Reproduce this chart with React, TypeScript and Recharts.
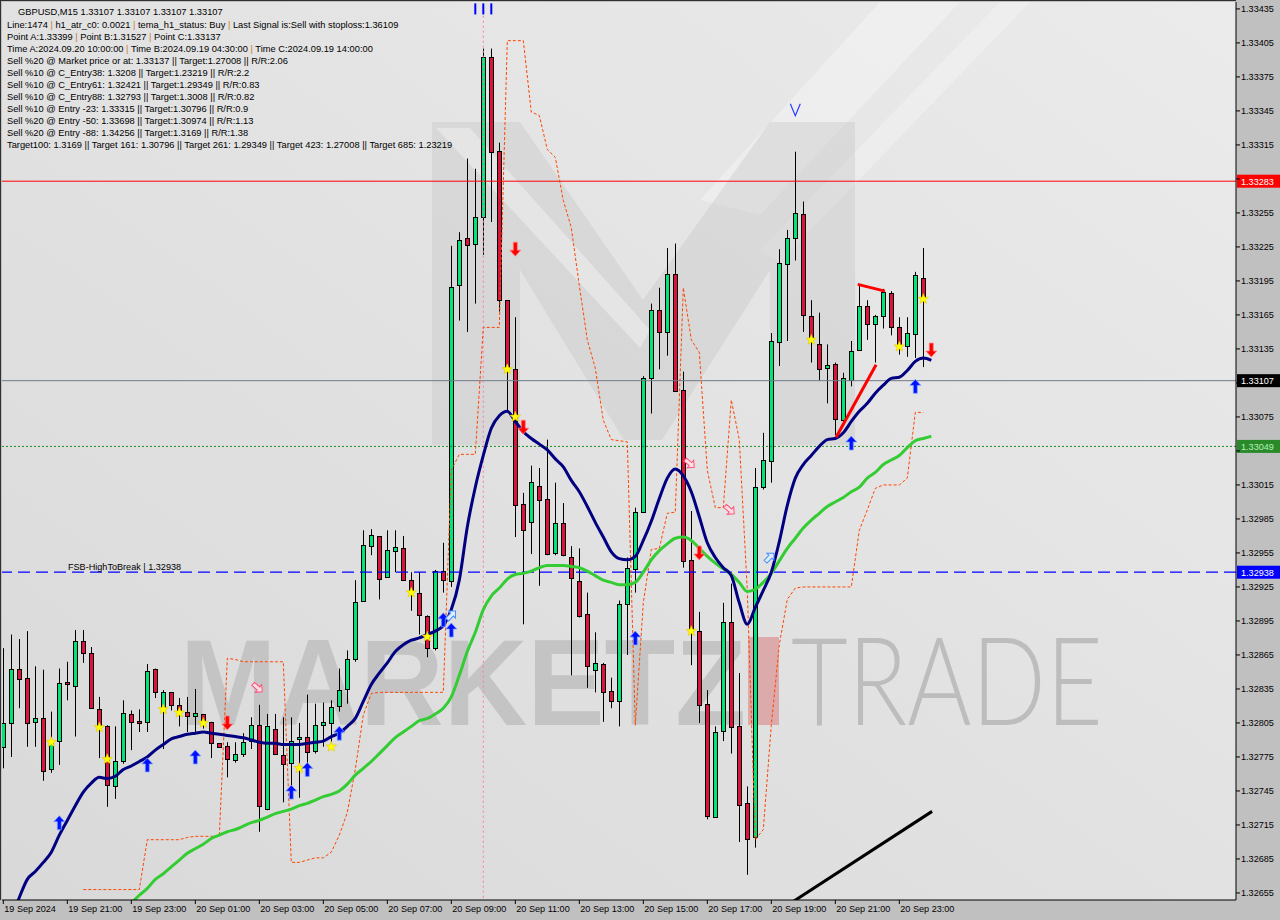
import React from "react";
import { ComposedChart, Bar, Line, Scatter, XAxis, YAxis, ReferenceLine } from "recharts";

const FONT = "'Liberation Sans', Arial, Helvetica, sans-serif";
const GREEN = "#00e47a";
const RED = "#dc143c";

// ---- candles (M15, 19 Sep 19:00 .. 20 Sep 23:45) ----
const opens = [
  1.32784, 1.32805, 1.32853, 1.32845, 1.32806, 1.32809, 1.32764, 1.32789, 1.32841, 1.32838,
  1.32877, 1.32867, 1.32817, 1.32802, 1.32749, 1.32771, 1.32813, 1.32807, 1.32806, 1.32853,
  1.32818, 1.32832, 1.32821, 1.32815, 1.32811, 1.32813, 1.32806, 1.32787, 1.32785, 1.32772,
  1.32778, 1.32789, 1.32803, 1.32729, 1.328, 1.32777, 1.3277, 1.32791, 1.32793, 1.3278,
  1.32803, 1.32805, 1.3282, 1.32835, 1.32861, 1.32913, 1.32961, 1.3297, 1.32934, 1.32957,
  1.32959, 1.32931, 1.3292, 1.32899, 1.32871, 1.32939, 1.3293, 1.33191, 1.33233, 1.33228,
  1.33251, 1.33393, 1.3331, 1.33178, 1.33117, 1.32998, 1.32982, 1.33014, 1.33003, 1.32955,
  1.32981, 1.32951, 1.3293, 1.32901, 1.32852, 1.32857, 1.32833, 1.32824, 1.3291, 1.32941,
  1.32991, 1.33109, 1.33169, 1.3315, 1.33201, 1.33099, 1.32949, 1.32886, 1.32822, 1.32722,
  1.32798, 1.32894, 1.32802, 1.32734, 1.32704, 1.33013, 1.33036, 1.33141, 1.3321, 1.33233,
  1.33254, 1.33164, 1.33139, 1.33118, 1.33122, 1.33072, 1.33108, 1.33134, 1.33173, 1.33157,
  1.33164, 1.33184, 1.33154, 1.33138, 1.33148, 1.33198,
];
const highs = [
  1.32871, 1.32883, 1.32879, 1.32886, 1.32855, 1.32852, 1.32815, 1.32853, 1.32859, 1.32887,
  1.32887, 1.32872, 1.32828, 1.32803, 1.32802, 1.32825, 1.32816, 1.32817, 1.32857, 1.32853,
  1.32834, 1.32832, 1.32827, 1.32828, 1.32835, 1.32813, 1.32806, 1.32787, 1.32788, 1.32788,
  1.32796, 1.3281, 1.32821, 1.32813, 1.32813, 1.3281, 1.3281, 1.32805, 1.3283, 1.32822,
  1.32823, 1.32825, 1.32853, 1.32869, 1.32931, 1.32975, 1.32976, 1.3297, 1.32975, 1.32975,
  1.3297, 1.32938, 1.32938, 1.329, 1.3294, 1.32964, 1.33226, 1.33238, 1.33303, 1.33294,
  1.334, 1.334, 1.33317, 1.33178, 1.33163, 1.33008, 1.33032, 1.3303, 1.33055, 1.33017,
  1.32999, 1.32961, 1.32959, 1.3292, 1.32885, 1.32858, 1.32845, 1.32913, 1.32951, 1.32995,
  1.33111, 1.33175, 1.33189, 1.33224, 1.33228, 1.33115, 1.32992, 1.32903, 1.32834, 1.32802,
  1.32911, 1.32928, 1.32849, 1.32749, 1.3303, 1.33061, 1.33149, 1.33223, 1.3324, 1.33309,
  1.33265, 1.33178, 1.33167, 1.33139, 1.33123, 1.33114, 1.33142, 1.33191, 1.33178, 1.33165,
  1.33188, 1.33186, 1.33163, 1.33163, 1.33203, 1.33224,
];
const lows = [
  1.32765, 1.32775, 1.32818, 1.32784, 1.32784, 1.32754, 1.32761, 1.32768, 1.32825, 1.32793,
  1.32858, 1.32818, 1.32774, 1.32731, 1.32738, 1.32769, 1.32781, 1.32797, 1.32797, 1.32827,
  1.32782, 1.32816, 1.32802, 1.32797, 1.32797, 1.328, 1.32774, 1.32783, 1.32757, 1.3277,
  1.32775, 1.32782, 1.32709, 1.32728, 1.32778, 1.32735, 1.32746, 1.32739, 1.32766, 1.32778,
  1.32784, 1.32787, 1.32815, 1.32822, 1.32859, 1.32913, 1.32953, 1.32914, 1.32934, 1.32938,
  1.32931, 1.32904, 1.32883, 1.32863, 1.32869, 1.3292, 1.32925, 1.3316, 1.3315, 1.33175,
  1.33218, 1.33247, 1.33168, 1.33079, 1.32969, 1.32892, 1.32954, 1.32926, 1.32953, 1.32953,
  1.32952, 1.32847, 1.32898, 1.32836, 1.32832, 1.32806, 1.32818, 1.32802, 1.32865, 1.3292,
  1.32991, 1.33078, 1.33117, 1.33129, 1.33098, 1.32942, 1.32856, 1.32805, 1.3272, 1.32722,
  1.32789, 1.32778, 1.327, 1.32671, 1.32695, 1.33011, 1.33017, 1.3312, 1.33142, 1.33213,
  1.3315, 1.33123, 1.33107, 1.33087, 1.33059, 1.33067, 1.33102, 1.33134, 1.33143, 1.33123,
  1.33153, 1.33147, 1.3313, 1.33128, 1.33127, 1.33119,
];
const closes = [
  1.32805, 1.32853, 1.32844, 1.32805, 1.32809, 1.32763, 1.32787, 1.3284, 1.32839, 1.32877,
  1.32867, 1.32818, 1.32802, 1.3275, 1.32771, 1.32814, 1.32806, 1.32805, 1.32851, 1.32832,
  1.32832, 1.32821, 1.32815, 1.32811, 1.32814, 1.32806, 1.32787, 1.32784, 1.32773, 1.32778,
  1.32788, 1.32803, 1.32732, 1.32802, 1.32778, 1.32769, 1.32789, 1.32793, 1.32779, 1.32803,
  1.32806, 1.32819, 1.32834, 1.32861, 1.32912, 1.32962, 1.32971, 1.32932, 1.32958, 1.3296,
  1.32931, 1.32922, 1.329, 1.32871, 1.32939, 1.32931, 1.3319, 1.33231, 1.33227, 1.33251,
  1.33393, 1.33309, 1.33178, 1.33118, 1.32997, 1.32975, 1.33018, 1.33002, 1.32954, 1.32981,
  1.32953, 1.32933, 1.32899, 1.32855, 1.32858, 1.32832, 1.32824, 1.3291, 1.32942, 1.32991,
  1.33109, 1.33169, 1.3315, 1.33201, 1.33098, 1.32948, 1.32886, 1.32821, 1.32723, 1.32797,
  1.32894, 1.32801, 1.32733, 1.32703, 1.33013, 1.33037, 1.33142, 1.33211, 1.33233, 1.33255,
  1.33165, 1.33145, 1.33117, 1.33121, 1.33073, 1.33109, 1.33133, 1.33173, 1.33157, 1.33164,
  1.33185, 1.33154, 1.33139, 1.33149, 1.332, 1.3318,
];

// ---- indicator lines ----
const fastMA = [
  1.32614, 1.32633, 1.32651, 1.32667, 1.32674, 1.32682, 1.32691, 1.32706, 1.32719, 1.32732,
  1.32744, 1.32752, 1.32757, 1.32756, 1.32758, 1.32764, 1.32767, 1.32771, 1.32775, 1.32781,
  1.32786, 1.32791, 1.32793, 1.32795, 1.32796, 1.32797, 1.32796, 1.32795, 1.32794, 1.32793,
  1.32792, 1.3279, 1.32788, 1.32787, 1.32787, 1.32786, 1.32786, 1.32786, 1.32787, 1.32788,
  1.32789, 1.32793, 1.32796, 1.32802, 1.32809, 1.32824, 1.32839, 1.32849, 1.32858, 1.32868,
  1.32874, 1.32878, 1.3288, 1.32883, 1.32886, 1.32891, 1.32905, 1.32931, 1.32978, 1.33013,
  1.33041, 1.33065, 1.33076, 1.3308, 1.33071, 1.33062, 1.33056, 1.33051, 1.33046, 1.33038,
  1.33031, 1.33019, 1.33009, 1.32996, 1.32982, 1.32969, 1.32956, 1.3295, 1.32949, 1.32952,
  1.32966, 1.32983, 1.33003, 1.33021, 1.33029, 1.33023, 1.33009, 1.32987, 1.32964, 1.32951,
  1.32942, 1.32935, 1.32911, 1.32892, 1.32907, 1.32922, 1.32938, 1.32965, 1.32997, 1.33021,
  1.33033, 1.33041, 1.33049, 1.33055, 1.33056, 1.33061, 1.33071, 1.3308, 1.33087, 1.33096,
  1.33103, 1.33109, 1.3311, 1.33116, 1.33124, 1.33127, 1.33125,
];
const slowMA = [
  null, null, null, null, null, null, null, null, null, null,
  null, null, null, null, null, 1.32638, 1.32646, 1.32653, 1.32659, 1.32667,
  1.32672, 1.32678, 1.32684, 1.3269, 1.32694, 1.32698, 1.32703, 1.32706, 1.32709, 1.32711,
  1.32714, 1.32717, 1.32719, 1.32722, 1.32725, 1.32727, 1.32729, 1.32732, 1.32734, 1.32737,
  1.3274, 1.32742, 1.32745, 1.32751, 1.32759, 1.32765, 1.32771, 1.32778, 1.32785, 1.32792,
  1.32797, 1.32802, 1.32807, 1.32809, 1.32813, 1.32818, 1.32828, 1.32847, 1.32868, 1.32885,
  1.32905, 1.32917, 1.32924, 1.32932, 1.32936, 1.32937, 1.32939, 1.32942, 1.32944, 1.32944,
  1.32944, 1.32943, 1.32942, 1.32939, 1.32935, 1.32931, 1.32929, 1.32927, 1.32927, 1.32929,
  1.32938, 1.32949, 1.32957, 1.32963, 1.32968, 1.32969, 1.32966, 1.32959, 1.32952, 1.32946,
  1.32941, 1.32936, 1.32929, 1.32921, 1.32923, 1.32929, 1.32937, 1.32948, 1.32959, 1.32968,
  1.32977, 1.32984, 1.3299, 1.32996, 1.33, 1.33004, 1.33009, 1.33013, 1.33021, 1.33026,
  1.33033, 1.33037, 1.33041, 1.33048, 1.33054, 1.33056, 1.33058,
];
const trailStop = [
  null, null, null, null, null, null, null, null, null, null,
  1.32658, 1.32658, 1.32658, 1.32658, 1.32658, 1.32658, 1.32658, 1.32658, 1.32702, 1.32702,
  1.32702, 1.32702, 1.32702, 1.32704, 1.32705, 1.32705, 1.32705, 1.32705, 1.32862, 1.32861,
  1.32859, 1.32859, 1.32859, 1.32859, 1.32859, 1.32859, 1.32682, 1.32682, 1.32684, 1.32686,
  1.32686, 1.32691, 1.32706, 1.32726, 1.32764, 1.32812, 1.32831, 1.32832, 1.32832, 1.32832,
  1.32832, 1.32832, 1.32832, 1.32832, 1.32832, 1.32832, 1.33028, 1.33042, 1.33042, 1.33042,
  1.33154, 1.33154, 1.33154, 1.33407, 1.33407, 1.33407, 1.33344, 1.33341, 1.33311, 1.33304,
  1.33266, 1.33242, 1.33191, 1.33143, 1.33118, 1.33072, 1.33055, 1.33054, 1.33053, 1.32803,
  1.32911, 1.32958, 1.32959, 1.3299, 1.32991, 1.33189, 1.33143, 1.33132, 1.33028, 1.32995,
  1.32995, 1.3309, 1.33055, 1.32922, 1.32702, 1.32711, 1.32803, 1.32874, 1.32914, 1.32924,
  1.32925, 1.32925, 1.32925, 1.32925, 1.32925, 1.32925, 1.32925, 1.32975, 1.32993, 1.33012,
  1.33015, 1.33015, 1.33015, 1.33021, 1.33079, 1.33079, null,
];

// ---- axes ----
const timeTicks = [0, 8, 16, 24, 32, 40, 48, 56, 64, 72, 80, 88, 96, 104, 112];
const timeLabels = [
  "19 Sep 2024", "19 Sep 21:00", "19 Sep 23:00", "20 Sep 01:00", "20 Sep 03:00",
  "20 Sep 05:00", "20 Sep 07:00", "20 Sep 09:00", "20 Sep 11:00", "20 Sep 13:00",
  "20 Sep 15:00", "20 Sep 17:00", "20 Sep 19:00", "20 Sep 21:00", "20 Sep 23:00",
];
const priceTicks = [
  1.33435, 1.33405, 1.33375, 1.33345, 1.33315, 1.33285, 1.33255, 1.33225, 1.33195,
  1.33165, 1.33135, 1.33105, 1.33075, 1.33045, 1.33015, 1.32985, 1.32955, 1.32925,
  1.32895, 1.32865, 1.32835, 1.32805, 1.32775, 1.32745, 1.32715, 1.32685, 1.32655,
];
// labels covered by the price tags of the horizontal lines
const hiddenTickLabels = [1.33285, 1.33105, 1.33045];

// ---- signal markers ----
const starK = [6, 12, 13, 20, 22, 25, 37, 41, 51, 53, 63, 64, 86, 101, 112, 115];
const starV = [1.32788, 1.32801, 1.32773, 1.32817, 1.32814, 1.32805, 1.32765, 1.32784, 1.3292, 1.32881, 1.33117, 1.33075, 1.32886, 1.33143, 1.33137, 1.33179];
const buyK = [7, 18, 24, 36, 38, 42, 55, 56, 79, 106, 114];
const buyV = [1.32717, 1.32768, 1.32775, 1.32744, 1.32764, 1.32796, 1.32896, 1.32887, 1.3288, 1.33052, 1.33102];
const sellK = [28, 64, 65, 87, 116];
const sellV = [1.32805, 1.33223, 1.33066, 1.32955, 1.33134];
const exitSellK = [31.8, 85.8, 90.8];
const exitSellV = [1.32836, 1.33034, 1.32993];
const exitBuyK = [56, 95.8];
const exitBuyV = [1.329, 1.32951];
const topMarkK = [59, 60, 61];
const topMarkV = [1.33435, 1.33435, 1.33435];
const peakK = [99];
const peakV = [1.33346];

const headerLines = [
  "GBPUSD,M15  1.33107 1.33107 1.33107 1.33107",
  "Line:1474 | h1_atr_c0: 0.0021 | tema_h1_status: Buy | Last Signal is:Sell with stoploss:1.36109",
  "Point A:1.33399 | Point B:1.31527 | Point C:1.33137",
  "Time A:2024.09.20 10:00:00 | Time B:2024.09.19 04:30:00 | Time C:2024.09.19 14:00:00",
  "Sell %20 @ Market price or at: 1.33137 || Target:1.27008 || R/R:2.06",
  "Sell %10 @ C_Entry38: 1.3208 || Target:1.23219 || R/R:2.2",
  "Sell %10 @ C_Entry61: 1.32421 || Target:1.29349 || R/R:0.83",
  "Sell %10 @ C_Entry88: 1.32793 || Target:1.3008 || R/R:0.82",
  "Sell %10 @ Entry -23: 1.33315 || Target:1.30796 || R/R:0.9",
  "Sell %20 @ Entry -50: 1.33698 || Target:1.30974 || R/R:1.13",
  "Sell %20 @ Entry -88: 1.34256 || Target:1.3169 || R/R:1.38",
  "Target100: 1.3169 || Target 161: 1.30796 || Target 261: 1.29349 || Target 423: 1.27008 || Target 685: 1.23219",
];

const rows = fastMA.map((m, k) => ({
  k,
  o: opens[k],
  h: highs[k],
  l: lows[k],
  c: closes[k],
  fast: m,
  slow: slowMA[k],
  trail: trailStop[k],
}));
const pts = (ks: number[], vs: number[]) => ks.map((k, i) => ({ k, v: vs[i] }));

const Candle = (props: any) => {
  const { x, y, width, height, payload } = props;
  if (!payload || payload.o == null || x == null || y == null) return <g />;
  const { o, h, l, c } = payload;
  const top = Math.min(y, y + height);
  const bot = Math.max(y, y + height);
  const span = h - l;
  const py = (p: number) => (span > 0 ? top + ((h - p) / span) * (bot - top) : top);
  const cx = Math.round(x + width / 2) + 0.5;
  const up = c >= o;
  const bt = Math.round(py(Math.max(o, c))) + 0.5;
  let bb = Math.round(py(Math.min(o, c))) + 0.5;
  if (bb - bt < 1) bb = bt + 1;
  return (
    <g>
      <line x1={cx} x2={cx} y1={top} y2={bot} stroke="#000" strokeWidth={1} />
      <rect x={cx - 2} y={bt} width={4} height={bb - bt} fill={up ? GREEN : RED} stroke="#000" strokeWidth={1} />
    </g>
  );
};

const StarShape = (p: any) => {
  const { cx, cy } = p;
  if (cx == null || cy == null) return <g />;
  const a: string[] = [];
  for (let i = 0; i < 10; i++) {
    const r = i % 2 === 0 ? 5.5 : 2.3;
    const t = -Math.PI / 2 + (i * Math.PI) / 5;
    a.push(`${cx + r * Math.cos(t)},${cy + r * Math.sin(t)}`);
  }
  return <polygon points={a.join(" ")} fill="#ffff00" stroke="#e8c800" strokeWidth={0.6} />;
};
const UpArrow = (p: any) => {
  const { cx, cy } = p;
  if (cx == null) return <g />;
  return (
    <path
      d={`M${cx} ${cy - 7} L${cx + 5.5} ${cy - 1} L${cx + 2} ${cy - 1} L${cx + 2} ${cy + 7} L${cx - 2} ${cy + 7} L${cx - 2} ${cy - 1} L${cx - 5.5} ${cy - 1} Z`}
      fill="#0010ff"
      stroke="#7aa2ff"
      strokeWidth={0.8}
    />
  );
};
const DownArrow = (p: any) => {
  const { cx, cy } = p;
  if (cx == null) return <g />;
  return (
    <path
      d={`M${cx} ${cy + 7} L${cx + 5.5} ${cy + 1} L${cx + 2} ${cy + 1} L${cx + 2} ${cy - 7} L${cx - 2} ${cy - 7} L${cx - 2} ${cy + 1} L${cx - 5.5} ${cy + 1} Z`}
      fill="#ff0000"
      stroke="#ff8080"
      strokeWidth={0.8}
    />
  );
};
const hollow = (angle: number, stroke: string, fill: string) => (p: any) => {
  const { cx, cy } = p;
  if (cx == null) return <g />;
  return (
    <path
      d="M-6 -2 L1 -2 L1 -5 L6 0 L1 5 L1 2 L-6 2 Z"
      transform={`translate(${cx},${cy}) rotate(${angle})`}
      fill={fill}
      stroke={stroke}
      strokeWidth={1}
    />
  );
};
const TopMark = (p: any) => {
  const { cx, cy } = p;
  if (cx == null) return <g />;
  return <line x1={cx} x2={cx} y1={cy - 5.5} y2={cy + 5.5} stroke="#0000ff" strokeWidth={2} />;
};
const PeakMark = (p: any) => {
  const { cx, cy } = p;
  if (cx == null) return <g />;
  return <path d={`M${cx - 5} ${cy - 6} L${cx} ${cy + 6} L${cx + 5} ${cy - 6}`} fill="none" stroke="#2a3cff" strokeWidth={1.2} />;
};

const TimeTick = (p: any) => {
  const { x, y, payload } = p;
  const i = timeTicks.indexOf(payload.value);
  return (
    <text x={x + 1} y={y + 6} fontSize={9.1} fontFamily={FONT} fill="#000" textAnchor="start">
      {timeLabels[i]}
    </text>
  );
};
const PriceTick = (p: any) => {
  const { x, y, payload } = p;
  if (hiddenTickLabels.some((v) => Math.abs(v - payload.value) < 1e-7)) return <g />;
  return (
    <text x={x + 1} y={y + 3.3} fontSize={9.1} fontFamily={FONT} fill="#000" textAnchor="start">
      {payload.value.toFixed(5)}
    </text>
  );
};
const PriceTag = (p: any) => {
  const vb = p.viewBox || {};
  const x = (vb.x ?? 0) + (vb.width ?? 0);
  const y = vb.y ?? 0;
  return (
    <g>
      {p.note ? (
        <text x={(vb.x ?? 0) + 66} y={y - 2.5} fontSize={9.1} fontFamily={FONT} fill="#000">
          {p.note}
        </text>
      ) : null}
      <rect x={x + 1} y={y - 6.5} width={43} height={13} fill={p.bg} />
      <text x={x + 5} y={y + 3.4} fontSize={9.1} fontFamily={FONT} fill={p.fg}>
        {p.text}
      </text>
    </g>
  );
};

const Background = () => (
  <svg width={1280} height={920} style={{ position: "absolute", left: 0, top: 0 }}>
    <defs>
      <linearGradient id="pbg" x1="1" y1="0" x2="0" y2="1">
        <stop offset="0" stopColor="#ebebeb" />
        <stop offset="1" stopColor="#d9d9d9" />
      </linearGradient>
    </defs>
    <rect x={0} y={0} width={1280} height={920} fill="#c0c0c0" />
    <rect x={2} y={2} width={1234} height={898} fill="url(#pbg)" />
    <polygon points="700,200 880,2 960,2 760,215" fill="#ffffff" opacity={0.3} />
    <polygon points="760,250 1000,2 1030,2 780,262" fill="#ffffff" opacity={0.25} />
    <polygon
      points="432,445 432,122 520,122 643,300 770,122 855,122 855,445 770,445 770,270 662,440 624,440 520,270 520,445"
      fill="#c6c6c6"
      opacity={0.38}
    />
    <polygon points="436,128 470,128 650,330 640,348" fill="#ffffff" opacity={0.35} />
    <text x={180} y={725} fontSize={123} fontWeight="bold" fontFamily={FONT} fill="#c4c4c4" textLength={566} lengthAdjust="spacingAndGlyphs">
      MARKETZ
    </text>
    <rect x={748} y={637} width={31} height={88} fill="#dcaaaa" />
    <text x={791} y={725} fontSize={123} fontWeight={300} fontFamily="Lato, 'Open Sans', 'Liberation Sans', sans-serif" fill="#bdbdbd" textLength={312} lengthAdjust="spacingAndGlyphs">
      TRADE
    </text>
    <line x1={0} y1={0.5} x2={1236} y2={0.5} stroke="#303030" />
    <line x1={0.5} y1={0} x2={0.5} y2={900} stroke="#303030" />
  </svg>
);

const Header = () => (
  <svg width={1280} height={160} style={{ position: "absolute", left: 0, top: 0, pointerEvents: "none" }}>
    {headerLines.map((line, i) => {
      const y = i === 0 ? 14.5 : 27.5 + (i - 1) * 12;
      const x = i === 0 ? 18 : 7;
      const parts = i >= 1 && i <= 3 ? line.split(" | ") : [line];
      return (
        <text key={i} x={x} y={y} fontSize={9.3} fontFamily={FONT} fill="#000">
          {parts.map((s, j) => (
            <React.Fragment key={j}>
              {j > 0 ? <tspan fill="#c87a2a">{" | "}</tspan> : null}
              <tspan>{s}</tspan>
            </React.Fragment>
          ))}
        </text>
      );
    })}
  </svg>
);

export default function App() {
  return (
    <div style={{ position: "absolute", left: 0, top: 0, width: 1280, height: 920, overflow: "hidden", background: "#c0c0c0" }}>
      <Background />
      <div style={{ position: "absolute", left: 0, top: 0 }}>
        <ComposedChart width={1280} height={920} data={rows} margin={{ top: 2, right: 0, bottom: 0, left: 2 }}>
          <XAxis
            dataKey="k"
            type="number"
            domain={[-0.1625, 154.0875]}
            allowDataOverflow
            ticks={timeTicks}
            interval={0}
            height={20}
            tickSize={4}
            tickMargin={2}
            tick={<TimeTick />}
            axisLine={{ stroke: "#000" }}
            tickLine={{ stroke: "#000" }}
          />
          <YAxis
            orientation="right"
            type="number"
            domain={[1.326488, 1.334411]}
            allowDataOverflow
            ticks={priceTicks}
            interval={0}
            width={44}
            tickSize={4}
            tickMargin={0}
            tick={<PriceTick />}
            axisLine={{ stroke: "#000" }}
            tickLine={{ stroke: "#000" }}
          />
          <ReferenceLine y={1.33283} stroke="#ff0000" strokeWidth={1} label={<PriceTag text="1.33283" bg="#ff0000" fg="#ffffff" />} />
          <ReferenceLine y={1.33107} stroke="#707c8a" strokeWidth={1} label={<PriceTag text="1.33107" bg="#000000" fg="#ffffff" />} />
          <ReferenceLine y={1.33049} stroke="#1e8c1e" strokeWidth={1} strokeDasharray="2 2" label={<PriceTag text="1.33049" bg="#2a8a2a" fg="#b8f0b8" />} />
          <ReferenceLine y={1.32938} stroke="#0000ff" strokeWidth={1.2} strokeDasharray="12 6" label={<PriceTag text="1.32938" bg="#0000ff" fg="#ffffff" note="FSB-HighToBreak  |  1.32938" />} />
          <ReferenceLine segment={[{ x: 60, y: 1.33429 }, { x: 60, y: 1.32649 }]} stroke="#ff77b0" strokeDasharray="2 3" ifOverflow="hidden" />
          <Bar dataKey={(d: any) => (d.o == null ? null : [d.l, d.h])} barSize={5} shape={<Candle />} isAnimationActive={false} />
          <Line dataKey="trail" type="linear" stroke="#ff4500" strokeWidth={1} strokeDasharray="3 2" dot={false} isAnimationActive={false} connectNulls={false} />
          <Line dataKey="slow" type="monotone" stroke="#33cc33" strokeWidth={3} dot={false} isAnimationActive={false} connectNulls={false} />
          <Line dataKey="fast" type="monotone" stroke="#000080" strokeWidth={3} dot={false} isAnimationActive={false} />
          <ReferenceLine segment={[{ x: 104.1, y: 1.33057 }, { x: 109.1, y: 1.33121 }]} stroke="#ff0000" strokeWidth={3} ifOverflow="hidden" />
          <ReferenceLine segment={[{ x: 106.8, y: 1.33192 }, { x: 110.2, y: 1.33186 }]} stroke="#ff0000" strokeWidth={3} ifOverflow="hidden" />
          <ReferenceLine segment={[{ x: 98.2, y: 1.32645 }, { x: 116.1, y: 1.32727 }]} stroke="#000000" strokeWidth={3} ifOverflow="hidden" />
          <Scatter data={pts(starK, starV)} dataKey="v" shape={<StarShape />} isAnimationActive={false} />
          <Scatter data={pts(buyK, buyV)} dataKey="v" shape={<UpArrow />} isAnimationActive={false} />
          <Scatter data={pts(sellK, sellV)} dataKey="v" shape={<DownArrow />} isAnimationActive={false} />
          <Scatter data={pts(exitSellK, exitSellV)} dataKey="v" shape={hollow(40, "#ff5078", "#fbe0e6")} isAnimationActive={false} />
          <Scatter data={pts(exitBuyK, exitBuyV)} dataKey="v" shape={hollow(-45, "#3f8cff", "#e2eeff")} isAnimationActive={false} />
          <Scatter data={pts(topMarkK, topMarkV)} dataKey="v" shape={<TopMark />} isAnimationActive={false} />
          <Scatter data={pts(peakK, peakV)} dataKey="v" shape={<PeakMark />} isAnimationActive={false} />
        </ComposedChart>
      </div>
      <Header />
    </div>
  );
}
